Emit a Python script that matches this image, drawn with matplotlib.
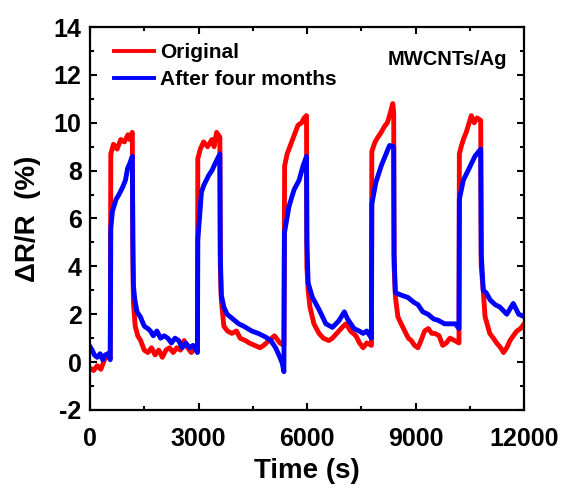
import matplotlib.pyplot as plt

plt.rcParams['font.family'] = ['Liberation Sans', 'DejaVu Sans']
plt.rcParams['font.weight'] = 'bold'
plt.rcParams['axes.unicode_minus'] = False

# Original response (time in s, dR/R in %)
t_orig = [0, 100, 200, 300, 400, 500, 560,
          575, 650, 750, 850, 950, 1050, 1100, 1170,
          1185, 1200, 1250, 1320, 1400, 1500, 1600, 1700, 1800, 1900, 2000,
          2100, 2200, 2300, 2400, 2500, 2600, 2700, 2800, 2900, 2970,
          2980, 3050, 3140, 3250, 3370, 3430, 3500, 3590,
          3602, 3630, 3700, 3800, 3920, 4050, 4150, 4300, 4400, 4550, 4700,
          4800, 4950, 5100, 5250, 5360,
          5380, 5450, 5550, 5650, 5750, 5850, 5920, 5985,
          5995, 6030, 6080, 6190, 6330, 6450, 6600, 6700, 6880, 7000, 7080,
          7200, 7350, 7450, 7550, 7650, 7780,
          7790, 7880, 7960, 8050, 8140, 8220, 8280, 8370, 8395,
          8405, 8445, 8510, 8600, 8700, 8800, 8880, 8970, 9065, 9150, 9250,
          9350, 9450, 9530, 9650, 9750, 9850, 9950, 10080, 10200,
          10210, 10260, 10320, 10400, 10450, 10540, 10620, 10700, 10800,
          10815, 10870, 10920, 11050, 11150, 11240, 11350, 11430, 11520,
          11610, 11700, 11800, 11900, 12000]
r_orig = [-0.25, -0.35, -0.15, -0.3, 0.1, 0.35, 0.2,
          8.7, 9.1, 8.9, 9.3, 9.2, 9.5, 9.3, 9.6,
          4.5, 2.5, 1.5, 1.1, 0.9, 0.5, 0.4, 0.6, 0.3, 0.5, 0.2,
          0.5, 0.6, 0.4, 0.6, 0.5, 0.9, 0.6, 0.4, 0.6, 0.5,
          8.5, 8.9, 9.2, 9.0, 9.3, 9.0, 9.6, 9.4,
          4.0, 2.6, 1.5, 1.3, 1.2, 1.3, 1.0, 0.9, 0.8, 0.7, 0.6,
          0.7, 0.9, 1.1, 0.8, 0.7,
          8.2, 8.7, 9.1, 9.5, 9.9, 10.0, 10.2, 10.3,
          4.0, 3.0, 2.3, 1.6, 1.2, 1.0, 0.9, 1.0, 1.3, 1.5, 1.6,
          1.3, 1.1, 0.8, 0.6, 0.8, 0.7,
          8.8, 9.2, 9.4, 9.6, 9.85, 10.0, 10.3, 10.8, 10.4,
          4.0, 2.7, 1.9, 1.6, 1.3, 1.0, 0.9, 0.7, 0.6, 0.9, 1.3,
          1.4, 1.2, 1.2, 1.1, 0.7, 0.8, 1.0, 0.9, 0.8,
          8.7, 9.0, 9.3, 9.6, 9.85, 10.3, 10.0, 10.2, 10.1,
          4.0, 3.0, 1.9, 1.2, 1.0, 0.8, 0.6, 0.4, 0.6,
          0.9, 1.1, 1.3, 1.4, 1.6]

# After four months
t_aged = [0, 60, 120, 200, 280, 350, 420, 500, 560,
          575, 620, 720, 800, 900, 980, 1040, 1100, 1170,
          1185, 1200, 1240, 1300, 1390, 1500, 1600, 1670, 1750, 1850, 1950,
          2050, 2150, 2250, 2350, 2450, 2550, 2650, 2750, 2850, 2970,
          2980, 3046, 3080, 3150, 3280, 3370, 3460, 3590,
          3602, 3630, 3700, 3790, 3950, 4110, 4250, 4470, 4650, 4850, 5000,
          5130, 5250, 5315, 5360,
          5375, 5500, 5640, 5780, 5890, 5985,
          5995, 6030, 6150, 6330, 6520, 6700, 6800, 6890, 7030, 7120, 7210,
          7300, 7440, 7550, 7650, 7780,
          7790, 7900, 8050, 8185, 8280, 8395,
          8405, 8440, 8600, 8790, 8950, 9065, 9200, 9343, 9500, 9620, 9800,
          9990, 10100, 10200,
          10210, 10320, 10450, 10640, 10800,
          10815, 10870, 10950, 11060, 11200, 11330, 11520, 11700, 11850, 12000]
r_aged = [0.65, 0.5, 0.3, 0.2, 0.35, 0.1, 0.3, 0.35, 0.1,
          5.6, 6.3, 6.8, 7.0, 7.3, 7.6, 8.1, 8.3, 8.6,
          5.0, 3.2, 2.6, 2.1, 1.9, 1.5, 1.4, 1.3, 1.1, 1.3, 1.0,
          1.1, 1.0, 0.8, 1.0, 0.9, 0.6, 0.8, 0.6, 0.7, 0.4,
          5.1, 6.4, 7.1, 7.4, 7.8, 8.0, 8.3, 8.7,
          4.5, 2.8, 2.3, 2.0, 1.8, 1.6, 1.5, 1.3, 1.2, 1.05, 0.9,
          0.6, 0.2, -0.05, -0.4,
          5.4, 6.5, 7.2, 7.6, 8.2, 8.6,
          5.0, 3.3, 2.7, 2.2, 1.6, 1.45, 1.6, 1.75, 2.1, 1.8, 1.6,
          1.4, 1.3, 1.2, 1.3, 1.0,
          6.6, 7.5, 8.2, 8.7, 9.05, 9.0,
          4.5, 2.9, 2.8, 2.7, 2.5, 2.4, 2.1, 2.0, 1.8, 1.75, 1.6,
          1.6, 1.6, 1.4,
          6.8, 7.6, 8.0, 8.6, 8.9,
          4.5, 3.0, 2.9, 2.6, 2.4, 2.3, 2.0, 2.45, 2.0, 1.9]

fig = plt.figure(figsize=(5.66, 4.93), dpi=100)
ax = fig.add_axes([0.159, 0.1684, 0.767, 0.7768])

ax.plot(t_orig, r_orig, color='#ff0000', lw=3.5, label='Original')
ax.plot(t_aged, r_aged, color='#0000ff', lw=3.5, label='After four months')

ax.set_xlim(0, 12000)
ax.set_ylim(-2, 14)
ax.set_xticks([0, 3000, 6000, 9000, 12000])
ax.set_xticks([1500, 4500, 7500, 10500], minor=True)
ax.set_yticks(range(-2, 15, 2))
ax.set_yticks(range(-1, 14, 2), minor=True)

ax.tick_params(which='both', direction='in', top=True, right=True, width=1.5)
ax.tick_params(which='major', length=5, labelsize=18)
ax.tick_params(axis='x', which='major', pad=12)
ax.tick_params(axis='y', which='major', pad=6)
ax.tick_params(which='minor', length=3)
for s in ax.spines.values():
    s.set_linewidth(1.6)
for lab in ax.get_xticklabels() + ax.get_yticklabels():
    lab.set_fontweight('bold')

ax.set_xlabel('Time (s)', fontsize=20, fontweight='bold', labelpad=5)
ax.set_ylabel('ΔR/R  (%)', fontsize=20, fontweight='bold', labelpad=9)

leg = ax.legend(loc='upper left', bbox_to_anchor=(0.036, 0.98), frameon=False,
                fontsize=15, handlelength=1.9, handletextpad=0.3,
                labelspacing=0.38, borderaxespad=0)
for txt in leg.get_texts():
    txt.set_fontweight('bold')
for ln in leg.get_lines():
    ln.set_linewidth(2.8)

ax.text(0.96, 0.915, 'MWCNTs/Ag', transform=ax.transAxes, ha='right', va='center',
        fontsize=14.5, fontweight='bold')

fig.savefig('out.png', dpi=100)
